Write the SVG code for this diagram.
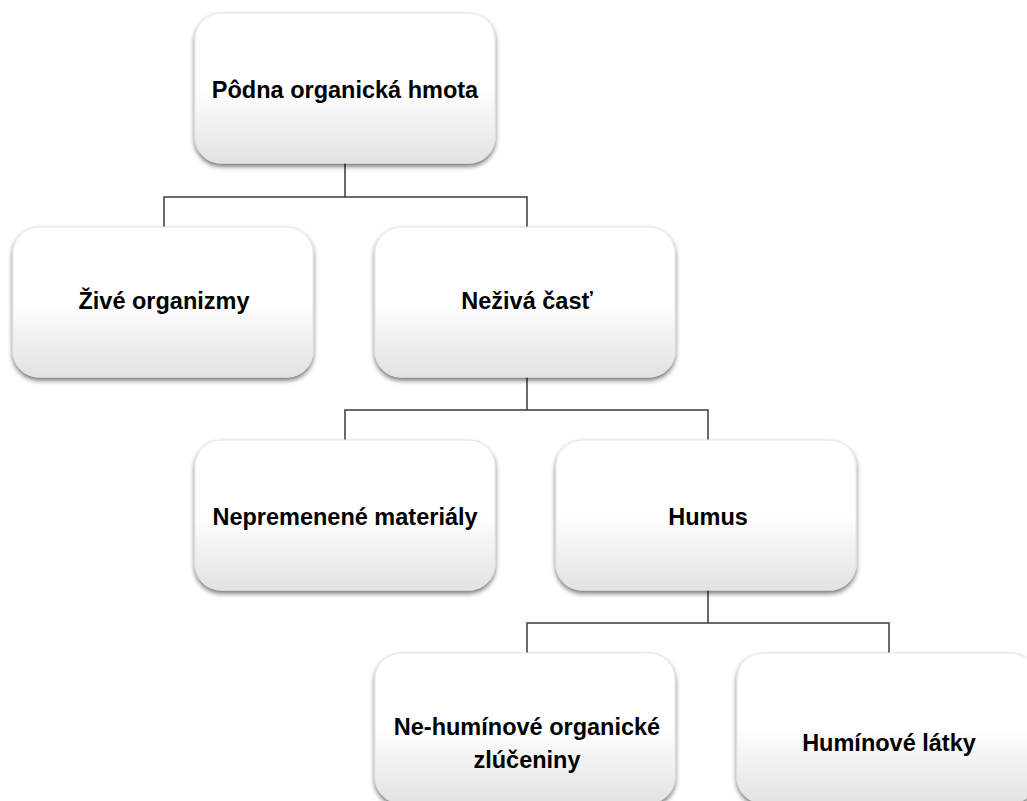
<svg xmlns="http://www.w3.org/2000/svg" width="1027" height="801" viewBox="0 0 1027 801">
<defs>
<linearGradient id="g" x1="0" y1="0" x2="0" y2="1">
<stop offset="0" stop-color="#ffffff"/>
<stop offset="0.5" stop-color="#ffffff"/>
<stop offset="1" stop-color="#e2e2e2"/>
</linearGradient>
<filter id="sh" x="-10%" y="-10%" width="120%" height="130%">
<feGaussianBlur in="SourceAlpha" stdDeviation="2.5"/>
<feOffset dx="0" dy="3" result="b"/>
<feComponentTransfer><feFuncA type="linear" slope="0.55"/></feComponentTransfer>
<feMerge><feMergeNode/><feMergeNode in="SourceGraphic"/></feMerge>
</filter>
</defs>
<style>
.box{fill:url(#g);stroke:#e4e4e4;stroke-width:1;filter:url(#sh)}
.t{font-family:"Liberation Sans",Arial,sans-serif;font-weight:bold;font-size:23.5px;fill:#000;text-anchor:middle}
.c{fill:none;stroke:#3a3a3a;stroke-width:1.5}
</style>
<rect width="1027" height="801" fill="#fff"/>
<g id="connectors">
<path class="c" d="M345 163V197M164 227V197H527V227"/>
<path class="c" d="M527 377V410M345 440V410H708V440"/>
<path class="c" d="M708 590V623M527 653V623H889V653"/>
</g>
<g id="n1"><rect class="box" x="195" y="13" width="300" height="150" rx="26"/><text class="t" x="345" y="98">Pôdna organická hmota</text></g>
<g id="n2"><rect class="box" x="13" y="227" width="300" height="150" rx="26"/><text class="t" x="164" y="309">Živé organizmy</text></g>
<g id="n3"><rect class="box" x="375" y="227" width="300" height="150" rx="26"/><text class="t" x="527" y="309">Neživá časť</text></g>
<g id="n4"><rect class="box" x="195" y="440" width="300" height="150" rx="26"/><text class="t" x="345" y="525">Nepremenené materiály</text></g>
<g id="n5"><rect class="box" x="556" y="440" width="300" height="150" rx="26"/><text class="t" x="708" y="525">Humus</text></g>
<g id="n6"><rect class="box" x="375" y="653" width="300" height="150" rx="26"/><text class="t" x="527" y="735">Ne-humínové organické</text><text class="t" x="527" y="768">zlúčeniny</text></g>
<g id="n7"><rect class="box" x="737" y="653" width="300" height="150" rx="26"/><text class="t" x="889" y="751">Humínové látky</text></g>
</svg>
